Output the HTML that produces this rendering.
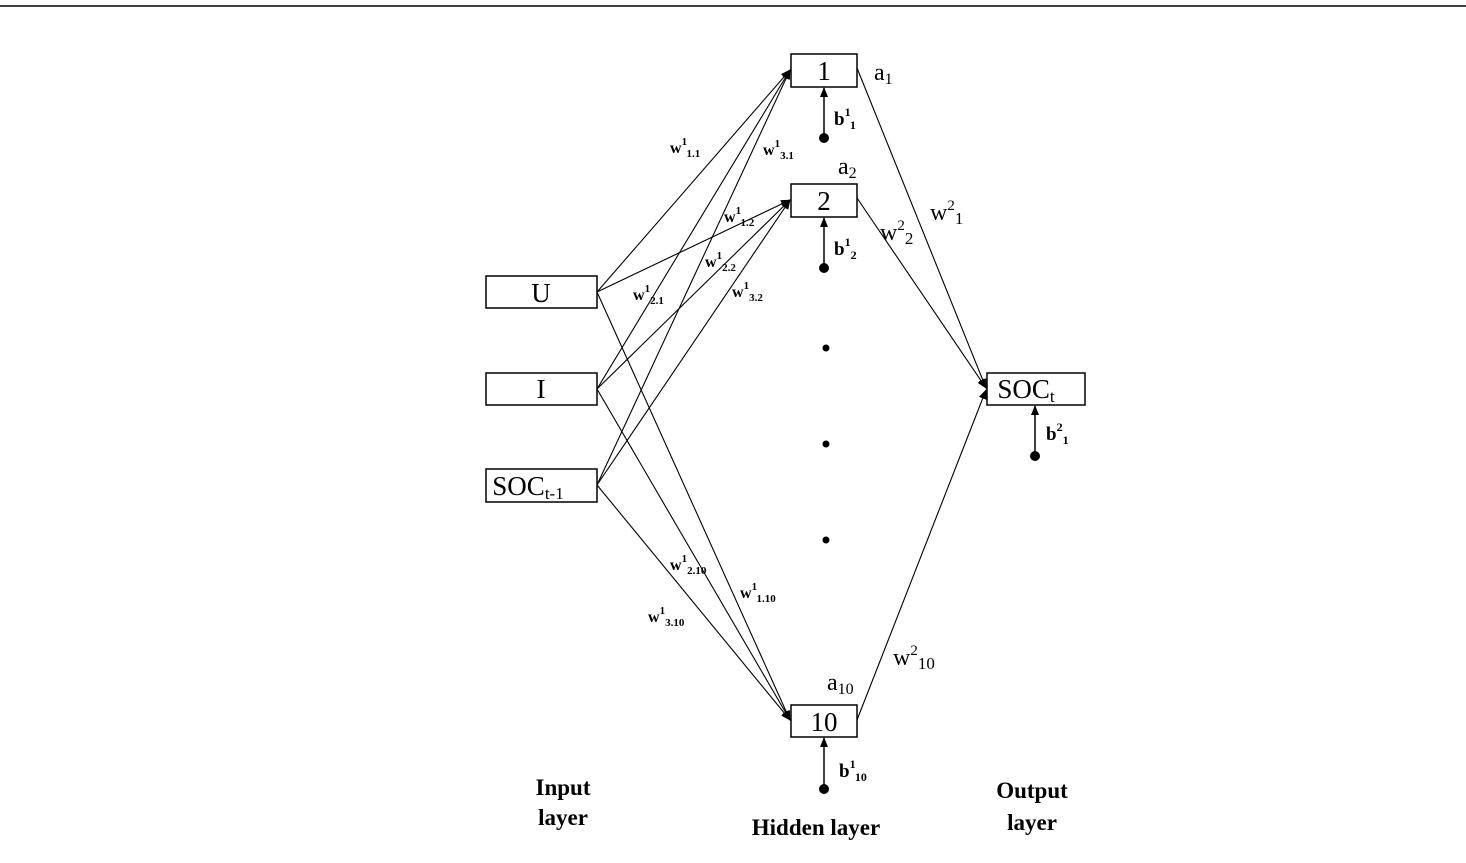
<!DOCTYPE html>
<html><head><style>body{margin:0;background:#fff}</style></head><body>
<svg width="1466" height="858" xmlns="http://www.w3.org/2000/svg" font-family="Liberation Serif, serif">
<defs><marker id="a" markerWidth="10" markerHeight="8" refX="9" refY="4" orient="auto" markerUnits="userSpaceOnUse"><path d="M0,0L10,4L0,8z" fill="#000"/></marker></defs>
<line x1="0" y1="6" x2="1466" y2="6" stroke="#000" stroke-width="1.5"/>
<g fill="#fff" stroke="#000" stroke-width="1.5">
<rect x="791" y="54" width="66" height="33"/>
<rect x="791" y="184" width="66" height="33"/>
<rect x="791" y="705" width="66" height="32"/>
<rect x="486" y="276" width="111" height="32"/>
<rect x="486" y="373" width="111" height="32"/>
<rect x="486" y="469" width="111" height="33"/>
<rect x="987" y="373" width="98" height="32"/>
</g>
<g stroke="#000" stroke-width="1.1" marker-end="url(#a)">
<line x1="597" y1="292" x2="790" y2="70"/>
<line x1="597" y1="389" x2="790" y2="70"/>
<line x1="597" y1="485" x2="790" y2="70"/>
<line x1="597" y1="292" x2="790" y2="200"/>
<line x1="597" y1="389" x2="790" y2="200"/>
<line x1="597" y1="485" x2="790" y2="200"/>
<line x1="597" y1="292" x2="790" y2="720"/>
<line x1="597" y1="389" x2="790" y2="720"/>
<line x1="597" y1="485" x2="790" y2="720"/>
<line x1="857" y1="68" x2="986" y2="388"/>
<line x1="857" y1="198" x2="986" y2="388"/>
<line x1="857" y1="720" x2="986" y2="390"/>
<line x1="824" y1="138" x2="824" y2="88" stroke-width="1.5"/>
<line x1="824" y1="268" x2="824" y2="218" stroke-width="1.5"/>
<line x1="824" y1="789" x2="824" y2="738" stroke-width="1.5"/>
<line x1="1035" y1="456" x2="1035" y2="406" stroke-width="1.5"/>
</g>
<g fill="#000"><circle cx="824" cy="138" r="5"/><circle cx="824" cy="268" r="5"/><circle cx="824" cy="789" r="5"/><circle cx="1035" cy="456" r="5"/>
<circle cx="826" cy="348" r="3.5"/><circle cx="826" cy="444" r="3.5"/><circle cx="826" cy="540" r="3.5"/></g>
<g font-size="27" text-anchor="middle">
<text x="824" y="80">1</text><text x="824" y="210">2</text><text x="824" y="731">10</text>
<text x="541" y="302">U</text><text x="541" y="398">I</text>
<text x="528" y="495">SOC<tspan font-size="17" dy="4">t-1</tspan></text>
<text x="1026" y="398">SOC<tspan font-size="17" dy="4">t</tspan></text>
</g>
<g font-size="24">
<text x="874" y="80">a<tspan font-size="16" dy="4">1</tspan></text>
<text x="838" y="174">a<tspan font-size="16" dy="4">2</tspan></text>
<text x="827" y="690">a<tspan font-size="16" dy="4">10</tspan></text>
<text x="880" y="240">w<tspan font-size="15" dy="-10">2</tspan><tspan font-size="17" dy="14">2</tspan></text>
<text x="930" y="220">w<tspan font-size="15" dy="-10">2</tspan><tspan font-size="17" dy="14">1</tspan></text>
<text x="893" y="665">w<tspan font-size="15" dy="-10">2</tspan><tspan font-size="17" dy="14">10</tspan></text>
</g>
<g font-size="19" font-weight="bold">
<text x="834" y="125">b<tspan font-size="12" dy="-9">1</tspan><tspan font-size="12" dy="13">1</tspan></text>
<text x="834" y="255">b<tspan font-size="12" dy="-9">1</tspan><tspan font-size="12" dy="13">2</tspan></text>
<text x="839" y="777">b<tspan font-size="12" dy="-9">1</tspan><tspan font-size="12" dy="13">10</tspan></text>
<text x="1046" y="440">b<tspan font-size="12" dy="-9">2</tspan><tspan font-size="12" dy="13">1</tspan></text>
</g>
<g font-size="16" font-weight="bold">
<text x="670" y="153">w<tspan font-size="11" dy="-8">1</tspan><tspan font-size="11" dy="12">1.1</tspan></text>
<text x="763" y="155">w<tspan font-size="11" dy="-8">1</tspan><tspan font-size="11" dy="12">3.1</tspan></text>
<text x="724" y="222">w<tspan font-size="11" dy="-8">1</tspan><tspan font-size="11" dy="12">1.2</tspan></text>
<text x="705" y="267">w<tspan font-size="11" dy="-8">1</tspan><tspan font-size="11" dy="12">2.2</tspan></text>
<text x="633" y="300">w<tspan font-size="11" dy="-8">1</tspan><tspan font-size="11" dy="12">2.1</tspan></text>
<text x="732" y="297">w<tspan font-size="11" dy="-8">1</tspan><tspan font-size="11" dy="12">3.2</tspan></text>
<text x="670" y="570">w<tspan font-size="11" dy="-8">1</tspan><tspan font-size="11" dy="12">2.10</tspan></text>
<text x="740" y="598">w<tspan font-size="11" dy="-8">1</tspan><tspan font-size="11" dy="12">1.10</tspan></text>
<text x="648" y="622">w<tspan font-size="11" dy="-8">1</tspan><tspan font-size="11" dy="12">3.10</tspan></text>
</g>
<g font-size="23" font-weight="bold" text-anchor="middle">
<text x="563" y="795">Input</text><text x="563" y="825">layer</text>
<text x="816" y="835">Hidden layer</text>
<text x="1032" y="798">Output</text><text x="1032" y="830">layer</text>
</g>
</svg>
</body></html>
